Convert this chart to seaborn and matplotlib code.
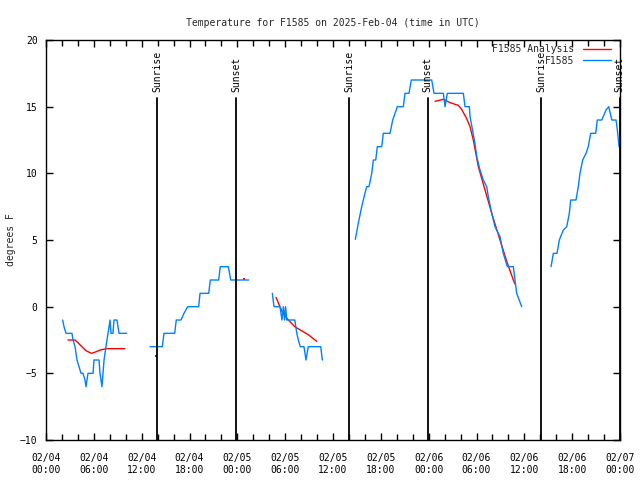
import numpy as np
import pandas as pd
import matplotlib
matplotlib.use("Agg")
import matplotlib.pyplot as plt
import matplotlib.dates as mdates
import seaborn as sns

# DATA (hours after 2025-02-04 00:00 UTC, degrees F)
START = pd.Timestamp("2025-02-04 00:00")

obs_seg1_h = [2.09, 2.26, 2.51, 3.26, 3.39, 3.64, 3.89, 4.14, 4.39, 4.64, 4.89, 5.02, 5.14, 5.27,
              5.90, 6.02, 6.65, 6.77, 7.02, 7.15, 7.28, 7.52, 7.78, 8.03, 8.15, 8.40, 8.53, 8.90,
              9.16, 10.12]
obs_seg1_t = [-1, -1.5, -2, -2, -2.5, -3, -4, -4.5, -5, -5, -5.5, -6, -5.5, -5,
              -5, -4, -4, -5, -6, -5, -4, -3, -2, -1, -2, -2, -1, -1,
              -2, -2]

obs_seg2_h = [13.05, 14.59, 14.80, 16.14, 16.34, 16.93, 17.31, 17.77, 19.15, 19.32, 20.41, 20.61,
              21.66, 21.86, 22.87, 23.17, 25.43]
obs_seg2_t = [-3, -3, -2, -2, -1, -1, -0.5, 0, 0, 1, 1, 2,
              2, 3, 3, 2, 2]

obs_seg3_h = [28.39, 28.60, 29.35, 29.60, 29.77, 29.92, 30.05, 30.20, 31.21, 31.46, 31.65, 31.90,
              32.36, 32.61, 32.90, 34.46, 34.66]
obs_seg3_t = [1, 0, 0, -1, 0, -1, 0, -1, -1, -2, -2.5, -3,
              -3, -4, -3, -3, -4]

obs_seg4_h = [38.80, 39.17, 39.60, 40.01, 40.22, 40.51, 40.86, 41.06, 41.36, 41.56, 42.11, 42.31,
              43.15, 43.49, 44.07, 44.82, 45.03, 45.53, 45.82, 48.38, 48.67, 49.64, 49.84, 50.05,
              50.34, 52.35, 52.56, 53.10, 53.19, 53.81, 54.03, 54.44, 54.85, 55.28, 55.48, 55.91,
              56.32, 56.95, 57.36, 57.87, 58.62, 58.83, 59.04, 59.67]
obs_seg4_t = [5.05, 6.25, 7.5, 8.5, 9, 9, 10, 11, 11, 12, 12, 13,
              13, 14, 15, 15, 16, 16, 17, 17, 16, 16, 16, 15,
              16, 16, 15, 15, 14.25, 12.25, 11.25, 10.25, 9.5, 9, 8.25, 7,
              6, 5.25, 4, 3, 3, 2, 1, 0]

obs_seg5_h = [63.35, 63.64, 64.10, 64.39, 64.89, 65.32, 65.64, 65.82, 66.48, 66.77, 66.98, 67.32,
              67.74, 68.02, 68.32, 68.95, 69.15, 69.71, 70.25, 70.59, 70.97, 71.50, 71.67, 71.88]
obs_seg5_t = [3, 4, 4, 5, 5.75, 6, 7, 8, 8, 9, 10, 11,
              11.5, 12, 13, 13, 14, 14, 14.75, 15, 14, 14, 13.25, 12]

ana_seg1_h = [2.76, 3.64, 4.00, 4.50, 5.00, 5.70, 6.20, 6.80, 7.60, 9.90]
ana_seg1_t = [-2.5, -2.5, -2.7, -3.0, -3.3, -3.5, -3.4, -3.25, -3.15, -3.15]

ana_seg3_h = [28.85, 29.70, 30.40, 31.20, 31.90, 32.90, 33.96]
ana_seg3_t = [0.7, -0.5, -1.0, -1.5, -1.75, -2.1, -2.6]

ana_seg4_h = [48.79, 49.84, 50.68, 51.72, 52.14, 52.77, 53.19, 53.60, 54.23, 55.07, 55.91, 56.95,
              57.79, 58.62, 58.83]
ana_seg4_t = [15.4, 15.55, 15.3, 15.1, 14.8, 14.1, 13.5, 12.5, 10.5, 8.75, 7.0, 5.0,
              3.4, 2.0, 1.7]

ana_dots_h = [13.80, 24.88]
ana_dots_t = [-3.7, 2.1]

sun_h = [13.92, 23.83, 38.0, 47.9, 62.1, 71.95]
sun_labels = ["Sunrise", "Sunset", "Sunrise", "Sunset", "Sunrise", "Sunset"]

OBS_NAME = "F1585"
ANA_NAME = "F1585 Analysis"
COLORS = {ANA_NAME: "#ff0000", OBS_NAME: "#0080ff"}

# build long table
rows = []
for i, (hh, tt) in enumerate([(obs_seg1_h, obs_seg1_t), (obs_seg2_h, obs_seg2_t),
                              (obs_seg3_h, obs_seg3_t), (obs_seg4_h, obs_seg4_t),
                              (obs_seg5_h, obs_seg5_t)]):
    for h, t in zip(hh, tt):
        rows.append((OBS_NAME, f"o{i}", h, t))
for i, (hh, tt) in enumerate([(ana_seg1_h, ana_seg1_t), (ana_seg3_h, ana_seg3_t),
                              (ana_seg4_h, ana_seg4_t)]):
    for h, t in zip(hh, tt):
        rows.append((ANA_NAME, f"a{i}", h, t))
df = pd.DataFrame(rows, columns=["series", "seg", "hours", "temp"])
df["time"] = START + pd.to_timedelta(df["hours"], unit="h")

dots = pd.DataFrame({"time": START + pd.to_timedelta(ana_dots_h, unit="h"), "temp": ana_dots_t})

sns.set_style("ticks")
plt.rcParams["font.family"] = ["DejaVu Sans Mono"]
plt.rcParams["font.size"] = 7

fig = plt.figure(figsize=(6.4, 4.8), dpi=100)
ax = fig.add_axes([46 / 640, 40 / 480, 574 / 640, 400 / 480])

sns.lineplot(data=df, x="time", y="temp", hue="series", units="seg", estimator=None,
             hue_order=[ANA_NAME, OBS_NAME], palette=COLORS, linewidth=1.0, ax=ax)
sns.scatterplot(data=dots, x="time", y="temp", color="#ff0000", marker="s", s=2,
                linewidth=0, ax=ax, legend=False)

for h, lab in zip(sun_h, sun_labels):
    t = START + pd.Timedelta(hours=h)
    ax.axvline(t, ymin=0, ymax=0.855, color="black", linewidth=1.3)
    ax.text(t, 0.87, lab, rotation=90, ha="center", va="bottom",
            transform=ax.get_xaxis_transform(), fontsize=7, color="black")

ax.set_xlim(START, START + pd.Timedelta(hours=72))
ax.set_ylim(-10, 20)
ax.set_yticks(range(-10, 21, 5))
ax.xaxis.set_major_locator(mdates.HourLocator(byhour=[0, 6, 12, 18]))
ax.xaxis.set_minor_locator(mdates.HourLocator(byhour=range(0, 24, 2)))
ax.xaxis.set_major_formatter(mdates.DateFormatter("%m/%d\n%H:%M"))
ax.tick_params(axis="both", which="both", direction="in", top=True, right=True,
               colors="black", labelsize=7)
ax.tick_params(axis="both", which="major", length=5, width=1)
ax.tick_params(axis="x", which="major", pad=9)
ax.tick_params(axis="y", which="major", pad=6)
ax.tick_params(axis="x", which="minor", length=4, width=1)
for lbl in ax.get_xticklabels():
    lbl.set_linespacing(1.35)
for sp in ax.spines.values():
    sp.set_visible(True)
    sp.set_color("black")
    sp.set_linewidth(1)

ax.set_xlabel("")
ax.set_ylabel("degrees F", fontsize=7, labelpad=3)
ax.set_title("Temperature for F1585 on 2025-Feb-04 (time in UTC)", fontsize=7, pad=10)

leg = ax.legend(loc="upper right", frameon=False, markerfirst=False, fontsize=7,
                handlelength=2.9, borderaxespad=0.45, labelspacing=0.15, handletextpad=0.9,
                borderpad=0.2, bbox_to_anchor=(0.995, 1.005))
leg.set_title(None)

fig.savefig("out.png", dpi=100)
